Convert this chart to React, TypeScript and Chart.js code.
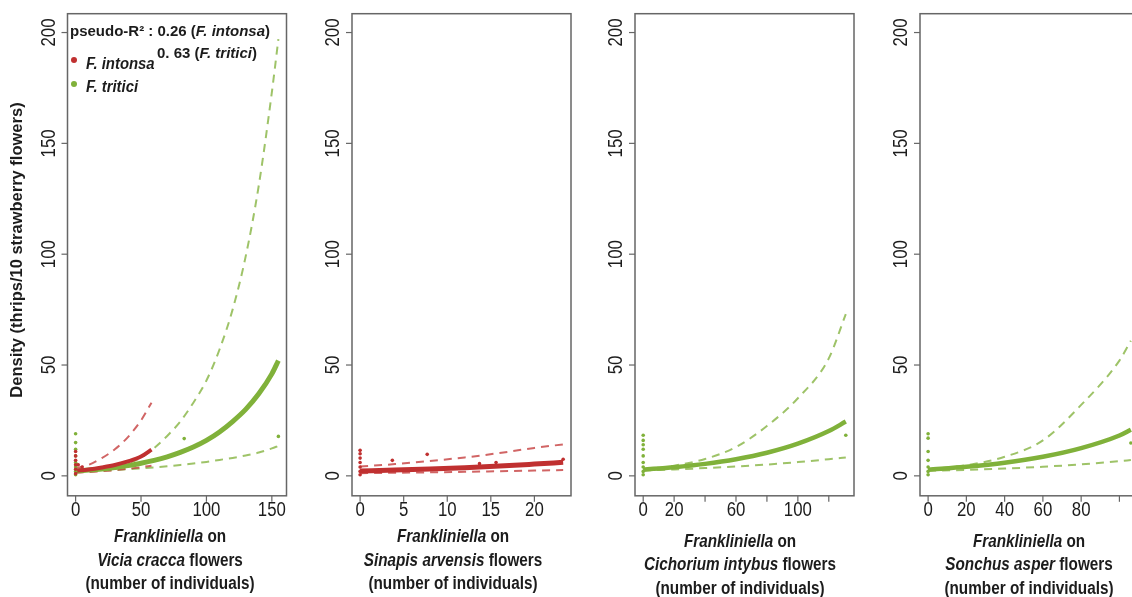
import React, { useEffect, useRef } from "react";
import { Chart, registerables } from "chart.js";

Chart.register(...registerables);

// ---------- shared axis values ----------
const Y_TICKS = [0, 50, 100, 150, 200];
const Y_TICK_LABELS = ["0", "50", "100", "150", "200"];
const Y_MIN = -9;
const Y_MAX = 208.5;
const Y_TITLE = "Density (thrips/10 strawberry flowers)";

// ---------- Panel 1 : Vicia cracca ----------
const p1XTicks = [0, 50, 100, 150];
const p1XTickLabels = ["0", "50", "100", "150"];
const p1TriticiX = [0, 10, 20, 30, 40, 50, 60, 70, 80, 90, 100, 110, 120, 130, 140, 150, 155];
const p1TriticiFit = [2.2, 2.6, 3.1, 3.8, 4.6, 5.7, 7.0, 8.6, 10.6, 13, 16, 19.8, 24.5, 30, 37, 46, 52];
const p1TriticiUpper = [2.6, 3.0, 3.6, 4.4, 5.6, 8.2, 12.5, 18, 24.5, 33, 43, 57, 75, 99, 131, 173, 197];
const p1TriticiLower = [1.8, 2.0, 2.3, 2.6, 3.0, 3.4, 3.8, 4.3, 4.9, 5.6, 6.3, 7.2, 8.1, 9.2, 10.5, 12.4, 13.5];
const p1IntonsaX = [0, 10, 20, 30, 40, 50, 58];
const p1IntonsaFit = [2.3, 2.9, 3.8, 4.9, 6.5, 8.7, 11.8];
const p1IntonsaUpper = [3.5, 5.0, 8.0, 12.0, 17.5, 25, 33];
const p1IntonsaLower = [1.4, 1.7, 2.1, 2.6, 3.2, 3.9, 4.6];
const p1TriticiDotX = [0, 0, 0, 0, 0, 0, 0, 0, 1, 83, 155];
const p1TriticiDotY = [0.5, 2, 4, 6, 9, 12, 15, 19, 5, 16.8, 17.8];
const p1IntonsaDotX = [0, 0, 0, 0, 0, 0, 2, 5];
const p1IntonsaDotY = [1, 3, 5, 7, 9, 11, 5, 4];

// ---------- Panel 2 : Sinapis arvensis ----------
const p2XTicks = [0, 5, 10, 15, 20];
const p2XTickLabels = ["0", "5", "10", "15", "20"];
const p2IntonsaX = [0, 4, 8, 12, 16, 20, 23.3];
const p2IntonsaFit = [2.2, 2.6, 3.1, 3.7, 4.4, 5.3, 6.1];
const p2IntonsaUpper = [4.2, 5.3, 6.7, 8.3, 10.3, 12.6, 14.2];
const p2IntonsaLower = [1.2, 1.4, 1.6, 1.8, 2.1, 2.4, 2.6];
const p2IntonsaDotX = [0, 0, 0, 0, 0, 0, 0, 3.7, 7.7, 13.7, 15.6, 23.3];
const p2IntonsaDotY = [0.5, 2, 4, 6, 8, 10, 11.5, 7, 9.7, 5.5, 6, 7.5];

// ---------- Panel 3 : Cichorium intybus ----------
const p3XTicks = [0, 20, 40, 60, 80, 100, 120];
const p3XTickLabels = ["0", "20", "", "60", "", "100", ""];
const p3TriticiX = [0, 20, 40, 60, 80, 100, 120, 131];
const p3TriticiFit = [2.8, 3.9, 5.4, 7.5, 10.4, 14.5, 20.2, 24.5];
const p3TriticiUpper = [3.1, 4.6, 7.6, 13, 22.5, 35, 53, 73];
const p3TriticiLower = [2.4, 2.9, 3.5, 4.2, 5.1, 6.2, 7.5, 8.3];
const p3TriticiDotX = [0, 0, 0, 0, 0, 0, 0, 0, 0, 131];
const p3TriticiDotY = [0.5, 2, 4, 6, 9, 12, 14, 16, 18.3, 18.3];

// ---------- Panel 4 : Sonchus asper ----------
const p4XTicks = [0, 20, 40, 60, 80, 100];
const p4XTickLabels = ["0", "20", "40", "60", "80", ""];
const p4TriticiX = [0, 20, 40, 60, 80, 100, 106];
const p4TriticiFit = [2.8, 4.1, 5.9, 8.6, 12.5, 18.2, 20.8];
const p4TriticiUpper = [3.0, 4.8, 8.6, 16, 32, 52, 61];
const p4TriticiLower = [2.3, 2.7, 3.3, 4.1, 5.2, 6.6, 7.1];
const p4TriticiDotX = [0, 0, 0, 0, 0, 0, 0, 106];
const p4TriticiDotY = [0.5, 2, 4, 7, 11, 17, 19, 14.8];

// ---------- text ----------
type Run = [string, boolean];
const p1Title: Run[][] = [
  [["Frankliniella", true], [" on", false]],
  [["Vicia cracca", true], [" flowers", false]],
  [["(number of individuals)", false]],
];
const p2Title: Run[][] = [
  [["Frankliniella", true], [" on", false]],
  [["Sinapis arvensis", true], [" flowers", false]],
  [["(number of individuals)", false]],
];
const p3Title: Run[][] = [
  [["Frankliniella", true], [" on", false]],
  [["Cichorium intybus", true], [" flowers", false]],
  [["(number of individuals)", false]],
];
const p4Title: Run[][] = [
  [["Frankliniella", true], [" on", false]],
  [["Sonchus asper", true], [" flowers", false]],
  [["(number of individuals)", false]],
];
const legendR2Line1: Run[] = [["pseudo-R² : 0.26 (", false], ["F. intonsa", true], [")", false]];
const legendR2Line2: Run[] = [["0. 63 (", false], ["F. tritici", true], [")", false]];
const legendIntonsa = "F. intonsa";
const legendTritici = "F. tritici";

// ---------- styles ----------
const GREEN = "rgb(128,177,58)";
const GREEN_DASH = "rgba(134,180,66,0.8)";
const RED = "rgb(192,48,48)";
const RED_DASH = "rgba(198,62,62,0.8)";
const AXIS = "#666666";
const TEXT = "#1c1c1c";
const FONT = '"Liberation Sans", Arial, sans-serif';
const NARROW_X = 0.84;

const BOX_W = 219;
const BOX_TOP = 13.7;
const BOX_BOTTOM = 495.8;
const H = 597;

function pts(xs: number[], ys: number[]) {
  return xs.map((x, i) => ({ x, y: ys[i] }));
}
function solid(xs: number[], ys: number[], color: string, w: number) {
  return {
    data: pts(xs, ys), showLine: true, borderColor: color, borderWidth: w,
    pointRadius: 0, cubicInterpolationMode: "monotone", fill: false,
  };
}
function dashed(xs: number[], ys: number[], color: string) {
  return {
    data: pts(xs, ys), showLine: true, borderColor: color, borderWidth: 2,
    borderDash: [8, 6], pointRadius: 0, cubicInterpolationMode: "monotone", fill: false,
  };
}
function dots(xs: number[], ys: number[], color: string) {
  return {
    data: pts(xs, ys), showLine: false, pointRadius: 1.8, pointBorderWidth: 0,
    backgroundColor: color, borderColor: color,
  };
}

const panels = [
  {
    boxLeft: 67.5, xMin: -6.2, xMax: 161.2, xTicks: p1XTicks, xLabels: p1XTickLabels,
    title: p1Title, titleX: 170, titleY: [537, 561, 584], legend: true,
    datasets: [
      dots(p1IntonsaDotX, p1IntonsaDotY, RED),
      dots(p1TriticiDotX, p1TriticiDotY, GREEN),
      solid(p1IntonsaX, p1IntonsaFit, RED, 4),
      solid(p1TriticiX, p1TriticiFit, GREEN, 5),
      dashed(p1IntonsaX, p1IntonsaUpper, RED_DASH),
      dashed(p1IntonsaX, p1IntonsaLower, RED_DASH),
      dashed(p1TriticiX, p1TriticiUpper, GREEN_DASH),
      dashed(p1TriticiX, p1TriticiLower, GREEN_DASH),
    ],
  },
  {
    boxLeft: 352, xMin: -0.93, xMax: 24.2, xTicks: p2XTicks, xLabels: p2XTickLabels,
    title: p2Title, titleX: 453, titleY: [537, 561, 584], legend: false,
    datasets: [
      dots(p2IntonsaDotX, p2IntonsaDotY, RED),
      solid(p2IntonsaX, p2IntonsaFit, RED, 5),
      dashed(p2IntonsaX, p2IntonsaUpper, RED_DASH),
      dashed(p2IntonsaX, p2IntonsaLower, RED_DASH),
    ],
  },
  {
    boxLeft: 635, xMin: -5.3, xMax: 136.3, xTicks: p3XTicks, xLabels: p3XTickLabels,
    title: p3Title, titleX: 740, titleY: [542, 565, 589], legend: false,
    datasets: [
      dots(p3TriticiDotX, p3TriticiDotY, GREEN),
      solid(p3TriticiX, p3TriticiFit, GREEN, 4.5),
      dashed(p3TriticiX, p3TriticiUpper, GREEN_DASH),
      dashed(p3TriticiX, p3TriticiLower, GREEN_DASH),
    ],
  },
  {
    boxLeft: 920, xMin: -4.24, xMax: 110.24, xTicks: p4XTicks, xLabels: p4XTickLabels,
    title: p4Title, titleX: 1029, titleY: [542, 565, 589], legend: false,
    datasets: [
      dots(p4TriticiDotX, p4TriticiDotY, GREEN),
      solid(p4TriticiX, p4TriticiFit, GREEN, 4.5),
      dashed(p4TriticiX, p4TriticiUpper, GREEN_DASH),
      dashed(p4TriticiX, p4TriticiLower, GREEN_DASH),
    ],
  },
];

function runFont(italic: boolean, bold: boolean, size: number) {
  return `${italic ? "italic " : ""}${bold ? "bold " : ""}${size}px ${FONT}`;
}

// draw text runs (mixed italic) with an optional horizontal squeeze
function drawRuns(ctx: CanvasRenderingContext2D, runs: Run[], x: number, cy: number, size: number, center: boolean, sx: number) {
  const widths = runs.map(([t, it]) => { ctx.font = runFont(it, true, size); return ctx.measureText(t).width; });
  const total = widths.reduce((a, b) => a + b, 0);
  ctx.save();
  ctx.translate(center ? x - (total * sx) / 2 : x, cy);
  ctx.scale(sx, 1);
  ctx.textAlign = "left";
  ctx.textBaseline = "middle";
  let cx = 0;
  runs.forEach(([t, it], i) => {
    ctx.font = runFont(it, true, size);
    ctx.fillText(t, cx, 0);
    cx += widths[i];
  });
  ctx.restore();
}

function narrowText(ctx: CanvasRenderingContext2D, text: string, x: number, y: number, rot: number) {
  ctx.save();
  ctx.translate(x, y);
  ctx.rotate(rot);
  ctx.scale(NARROW_X, 1);
  ctx.textAlign = "center";
  ctx.textBaseline = "middle";
  ctx.fillText(text, 0, 0);
  ctx.restore();
}

function Panel({ cfg }: { cfg: any }) {
  const ref = useRef<HTMLCanvasElement>(null);
  const canvasLeft = Math.max(0, Math.floor(cfg.boxLeft - 70));
  const padL = cfg.boxLeft - canvasLeft;
  const canvasW = Math.ceil(padL + BOX_W + 20);

  useEffect(() => {
    if (!ref.current) return;
    const plugin = {
      id: "rAxes",
      afterDraw(chart: any) {
        const ctx: CanvasRenderingContext2D = chart.ctx;
        const { left, right, top, bottom } = chart.chartArea;
        const xs = chart.scales.x;
        const ys = chart.scales.y;
        ctx.save();
        ctx.strokeStyle = AXIS;
        ctx.lineWidth = 1.5;
        ctx.strokeRect(left, top, right - left, bottom - top);
        ctx.lineWidth = 1.2;
        ctx.fillStyle = TEXT;
        ctx.font = runFont(false, false, 20);
        // y axis
        Y_TICKS.forEach((v, i) => {
          const py = ys.getPixelForValue(v);
          ctx.beginPath();
          ctx.moveTo(left - 6, py);
          ctx.lineTo(left, py);
          ctx.stroke();
          narrowText(ctx, Y_TICK_LABELS[i], left - 18.5, py, -Math.PI / 2);
        });
        // x axis
        cfg.xTicks.forEach((v: number, i: number) => {
          const px = xs.getPixelForValue(v);
          ctx.beginPath();
          ctx.moveTo(px, bottom);
          ctx.lineTo(px, bottom + 6);
          ctx.stroke();
          narrowText(ctx, cfg.xLabels[i], px, 510, 0);
        });
        // x titles
        cfg.title.forEach((line: Run[], i: number) => {
          drawRuns(ctx, line, cfg.titleX - canvasLeft, cfg.titleY[i], 18, true, 0.85);
        });
        if (cfg.legend) {
          drawRuns(ctx, legendR2Line1, 70 - canvasLeft, 32, 15, false, 1);
          drawRuns(ctx, legendR2Line2, 157 - canvasLeft, 54, 15, false, 1);
          ctx.fillStyle = RED;
          ctx.beginPath();
          ctx.arc(74 - canvasLeft, 60, 3, 0, Math.PI * 2);
          ctx.fill();
          ctx.fillStyle = GREEN;
          ctx.beginPath();
          ctx.arc(74 - canvasLeft, 84, 3, 0, Math.PI * 2);
          ctx.fill();
          ctx.fillStyle = TEXT;
          drawRuns(ctx, [[legendIntonsa, true]], 86 - canvasLeft, 65, 16, false, 0.93);
          drawRuns(ctx, [[legendTritici, true]], 86 - canvasLeft, 88, 16, false, 0.93);
          // y title
          ctx.save();
          ctx.translate(17 - canvasLeft, 250);
          ctx.rotate(-Math.PI / 2);
          ctx.font = runFont(false, true, 16.5);
          ctx.textAlign = "center";
          ctx.textBaseline = "middle";
          ctx.fillText(Y_TITLE, 0, 0);
          ctx.restore();
        }
        ctx.restore();
      },
    };
    const chart = new Chart(ref.current, {
      type: "scatter",
      data: { datasets: cfg.datasets },
      options: {
        responsive: false,
        animation: false,
        events: [],
        layout: {
          padding: { left: padL, right: canvasW - padL - BOX_W, top: BOX_TOP, bottom: H - BOX_BOTTOM },
        },
        plugins: { legend: { display: false }, tooltip: { enabled: false } },
        scales: {
          x: { type: "linear", display: false, min: cfg.xMin, max: cfg.xMax },
          y: { type: "linear", display: false, min: Y_MIN, max: Y_MAX },
        },
      } as any,
      plugins: [plugin],
    });
    return () => chart.destroy();
  }, []);

  return (
    <canvas
      ref={ref}
      width={canvasW}
      height={H}
      style={{ position: "absolute", left: canvasLeft, top: 0, width: canvasW, height: H }}
    />
  );
}

export default function App() {
  return (
    <div style={{ position: "fixed", left: 0, top: 0, width: 1132, height: H, overflow: "hidden", background: "#ffffff" }}>
      {panels.map((p, i) => (
        <Panel key={i} cfg={p} />
      ))}
    </div>
  );
}
